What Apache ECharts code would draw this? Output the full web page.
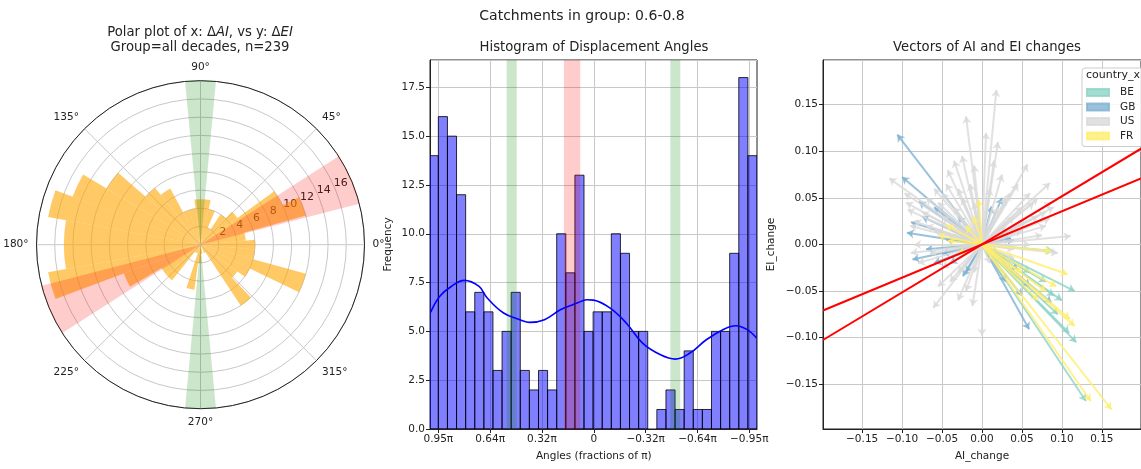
<!DOCTYPE html>
<html><head><meta charset="utf-8">
<script src="https://cdn.jsdelivr.net/npm/echarts@6/dist/echarts.min.js"></script>
<style>html,body{margin:0;padding:0;background:#fff}#c{width:1141px;height:469px}</style>
</head><body><div id="c"></div><script>
const FONT = 'DejaVu Sans';
const GRID = '#c8c8c8';

// ---------- Polar histogram: 35 equal bins from -180° to 180° ----------
const polarBinCount = 35;
const polarCounts = [15,17,9,5,5,1,1,5,2,1,0,1,8,5,6,12,6,6,5,12,10,5,4,2,4,5,5,4,4,7,8,12,15,17,15];
const polarRadiusTicks = ['2','4','6','8','10','12','14','16'];
const greenBandsDeg = [[84.6,95.4],[264.6,275.4]];
const redBandsDeg = [[14.5,32.6],[194.5,212.6]];

// ---------- Histogram of displacement angles (fractions of pi; left = +1) ----------
const histCounts = [14,16,15,12,6,7,6,3,5,7,3,2,3,2,10,8,13,5,6,6,10,9,5,5,0,1,2,1,4,1,1,5,5,9,18,14];
const histRangePi = [-1, 1.0047];
const histTickLabels = ['−0.95π','−0.64π','−0.32π','0','0.32π','0.64π','0.95π'];
const histGreenBands = [[0.470,0.531],[-0.531,-0.470]];
const histRedBands = [[0.081,0.181]];
const kdeX = [0.996,0.94,0.87,0.79,0.7,0.65,0.55,0.45,0.39,0.3,0.2,0.1,0.04,0,-0.1,-0.2,-0.3,-0.41,-0.5,-0.59,-0.69,-0.8,-0.87,-0.94,-0.997];
const kdeY = [5.98,6.8,7.3,7.61,7.3,6.71,5.94,5.6,5.46,5.6,6.12,6.45,6.62,6.6,6.2,5.43,4.4,3.8,3.58,3.89,4.57,5.12,5.29,5.09,4.66];

// ---------- Vectors (AI_change, EI_change) per country ----------
const countries = ['BE','GB','US','FR'];
const vecBE = [[0.130,-0.168],[0.118,-0.105],[0.116,-0.050],[0.089,-0.007],[0.109,-0.095],[0.080,-0.040],[0.060,-0.030],[0.095,-0.075],[0.100,-0.060],[0.090,-0.055]];
const vecGB = [[-0.106,0.118],[-0.100,0.0725],[-0.089,0.024],[-0.094,0.0125],[-0.087,-0.016],[-0.079,0.046],[0.059,-0.091],[0.087,-0.0625],[-0.024,-0.034],[0.012,0.041],[0.036,0.007],[0.045,-0.027],[-0.060,0.040],[-0.050,-0.010],[-0.040,-0.020],[0.030,-0.040],[-0.030,0.030],[0.020,-0.010],[-0.070,-0.005],[-0.075,0.030],[-0.060,-0.020],[-0.045,0.005],[0.025,0.050],[0.040,0.005],[-0.020,-0.030],[0.060,-0.045],[0.050,-0.055]];
const vecUS = [[0.018,0.166],[-0.020,0.1375],[0.057,0.086],[-0.116,0.071],[-0.043,0.080],[0.085,0.066],[0.087,0.045],[0.111,0.009],[0.095,-0.009],[0.000,-0.098],[-0.012,-0.066],[-0.061,-0.068],[-0.097,0.055],[-0.093,0.0375],[-0.089,-0.009],[-0.010,0.085],[0.025,0.075],[0.050,0.040],[0.070,0.030],[-0.070,0.020],[-0.060,0.060],[-0.080,-0.020],[-0.040,-0.040],[0.080,0.020],[0.060,0.055],[-0.030,0.060],[0.030,0.050],[-0.050,0.030],[0.040,-0.005],[-0.025,0.095],[0.005,0.120],[-0.085,0.025],[0.075,0.010],[-0.020,-0.050],
  [-0.095,0.045],[-0.090,0.020],[-0.085,0.000],[-0.075,0.035],[-0.070,0.050],[-0.065,-0.010],[-0.060,0.015],[-0.055,0.045],[-0.050,0.055],[-0.045,0.065],[-0.035,0.040],[-0.030,-0.030],[-0.025,0.050],[-0.015,0.065],[-0.010,0.045],[0.010,0.060],[0.015,0.090],[0.020,0.040],[0.035,0.055],[0.040,0.030],[0.045,0.065],[0.055,0.025],[0.065,0.045],[0.070,0.050],[0.080,0.035],[0.085,0.028],[0.090,0.040],[0.060,0.000],[0.050,0.015],[-0.040,0.010],[-0.020,0.020],[-0.050,-0.025],[-0.030,-0.060],[-0.010,-0.030],[0.010,-0.020],[0.040,-0.015],[0.020,0.110],[-0.035,0.090],[-0.055,-0.045],[0.030,0.020]];
const vecFR = [[0.162,-0.177],[0.136,-0.168],[0.116,-0.0875],[0.107,-0.032],[0.093,-0.045],[0.087,-0.007],[-0.004,0.048],[-0.045,0.021],[-0.043,0.004],[0.110,-0.080],[-0.030,-0.010],[0.050,-0.030],[0.070,-0.060],[-0.055,0.010],[-0.020,0.020],[-0.010,0.030],[0.080,-0.050]];
const countryColors = ['rgba(141,211,199,0.8)','rgba(128,177,211,0.8)','rgba(217,217,217,0.8)','rgba(255,237,111,0.8)'];
const redLine1 = [[-0.199,-0.1025],[0.199,0.1028]];
const redLine2 = [[-0.199,-0.0708],[0.199,0.0708]];

const fmtNum = (v, d) => (v < 0 ? '−' : '') + Math.abs(v).toFixed(d);
const chart = echarts.init(document.getElementById('c'), null, {renderer: 'canvas'});

function polarSector(params, api, r, a0, a1, style) {
  const cs = params.coordSys;
  const cx = cs.cx, cy = cs.cy;
  const p0 = api.coord([r, a0]);
  const p1 = api.coord([r, a1]);
  const rr = Math.hypot(p0[0] - cx, p0[1] - cy);
  if (rr < 0.5) return null;
  const s = Math.atan2(p1[1] - cy, p1[0] - cx);
  let e = Math.atan2(p0[1] - cy, p0[0] - cx);
  while (e <= s) e += Math.PI * 2;
  return {type: 'sector', shape: {cx, cy, r0: 0, r: rr, startAngle: s, endAngle: e, clockwise: true}, style};
}

const polarW = 360 / polarBinCount;
const polarBarData = polarCounts.map((c, i) => { const a0 = (-180 + i * polarW + 360) % 360; return [c, a0, a0 + polarW]; });
const polarBandData = greenBandsDeg.map(b => [18, b[0], b[1], 0]).concat(redBandsDeg.map(b => [18, b[0], b[1], 1]));
const histW = (histRangePi[1] - histRangePi[0]) / histCounts.length;
const histBarData = histCounts.map((c, i) => [histRangePi[1] - i * histW, histRangePi[1] - (i + 1) * histW, c]);
const histBandData = histGreenBands.map(b => [b[0], b[1], 0]).concat(histRedBands.map(b => [b[0], b[1], 1]));
const toLines = arr => arr.map(v => ({coords: [[0, 0], v]}));

const axisTxt = {color: '#222', fontFamily: FONT, fontSize: 10.5};
const titleTxt = {fontFamily: FONT, fontSize: 13.2, fontWeight: 'normal', color: '#222'};

const option = {
  animation: false,
  backgroundColor: '#fff',
  textStyle: {fontFamily: FONT},
  title: [
    {text: 'Catchments in group: 0.6-0.8', left: 582, top: 9, padding: 0, textAlign: 'center', textStyle: {...titleTxt, fontSize: 14}},
    {text: 'Polar plot of x: Δ{i|AI}, vs y: Δ{i|EI}\nGroup=all decades, n=239', left: 200, top: 25, padding: 0, textAlign: 'center',
      textStyle: {...titleTxt, lineHeight: 15, rich: {i: {fontStyle: 'italic', fontFamily: FONT, fontSize: 13.2, color: '#222', lineHeight: 15}}}},
    {text: 'Histogram of Displacement Angles', left: 594, top: 41, padding: 0, textAlign: 'center', textStyle: titleTxt},
    {text: 'Vectors of AI and EI changes', left: 987, top: 41, padding: 0, textAlign: 'center', textStyle: titleTxt},
    {text: 'country_x', left: 1086, top: 70, padding: 0, textStyle: {...titleTxt, fontSize: 11}}
  ],
  legend: {
    data: countries.map((n, i) => ({name: n, itemStyle: {color: countryColors[i]}})),
    orient: 'vertical', left: 1082, top: 68, icon: 'rect', itemWidth: 22, itemHeight: 7, itemGap: 3.5,
    padding: [19, 30, 5, 4], backgroundColor: 'rgba(255,255,255,0.85)', borderColor: '#ccc', borderWidth: 1, borderRadius: 3,
    textStyle: {fontFamily: FONT, fontSize: 10.5, color: '#222', padding: [0, 0, 0, 6]}
  },
  polar: [
    {center: [200.5, 244.7], radius: 164},
    {center: [206, 239], radius: 164}
  ],
  angleAxis: [
    {polarIndex: 0, type: 'value', min: 0, max: 360, interval: 45, startAngle: 0, clockwise: false,
      axisLine: {show: true, lineStyle: {color: '#222', width: 1}}, axisTick: {show: false},
      axisLabel: {...axisTxt, margin: 8, align: 'center', verticalAlign: 'middle', formatter: v => v >= 360 ? '' : v + '°'},
      splitLine: {show: true, lineStyle: {color: GRID, width: 1}}},
    {polarIndex: 1, type: 'value', min: 0, max: 360, startAngle: 22.5, clockwise: false,
      axisLine: {show: false}, axisTick: {show: false}, axisLabel: {show: false}, splitLine: {show: false}}
  ],
  radiusAxis: [
    {polarIndex: 0, type: 'value', min: 0, max: 18, interval: 2,
      axisLine: {show: false}, axisTick: {show: false}, axisLabel: {show: false},
      splitLine: {show: true, lineStyle: {color: GRID, width: 1}}},
    {polarIndex: 1, type: 'value', min: 0, max: 18, interval: 2,
      axisLine: {show: false}, axisTick: {show: false}, splitLine: {show: false},
      axisLabel: {...axisTxt, fontSize: 11, margin: 0, align: 'center', verticalAlign: 'middle', showMinLabel: false, showMaxLabel: false,
        formatter: v => { const i = Math.round(v / 2) - 1; return polarRadiusTicks[i] || ''; }}}
  ],
  grid: [
    {left: 430, top: 60, width: 327, height: 369, show: true, borderColor: '#222', borderWidth: 1, backgroundColor: 'transparent'},
    {left: 438.3, top: 60, width: 311, height: 369, show: false},
    {left: 823, top: 60, width: 327, height: 369, show: true, borderColor: '#222', borderWidth: 1, backgroundColor: 'transparent'}
  ],
  xAxis: [
    {gridIndex: 0, type: 'value', min: -1, max: 1, inverse: true,
      axisLine: {show: true, onZero: false, lineStyle: {color: '#222'}}, axisTick: {show: false}, axisLabel: {show: false}, splitLine: {show: false}},
    {gridIndex: 1, type: 'value', min: -0.95, max: 0.95, interval: 0.95 / 3, inverse: true,
      name: 'Angles (fractions of π)', nameLocation: 'middle', nameGap: 22, nameTextStyle: {...axisTxt},
      axisLine: {show: false, onZero: false}, axisTick: {show: true, length: 4, lineStyle: {color: '#222'}},
      axisLabel: {...axisTxt, margin: 5, showMinLabel: true, showMaxLabel: true,
        formatter: v => histTickLabels[Math.round((v + 0.95) / (0.95 / 3))] || ''},
      splitLine: {show: true, lineStyle: {color: GRID, width: 1}}},
    {gridIndex: 2, type: 'value', min: -0.199, max: 0.199, splitNumber: 8,
      name: 'AI_change', nameLocation: 'middle', nameGap: 22, nameTextStyle: {...axisTxt},
      axisLine: {show: true, onZero: false, lineStyle: {color: '#222'}}, axisTick: {show: true, length: 4, lineStyle: {color: '#222'}},
      axisLabel: {...axisTxt, margin: 5, showMinLabel: false, showMaxLabel: false, formatter: v => fmtNum(v, 2)},
      splitLine: {show: true, lineStyle: {color: GRID, width: 1}}}
  ],
  yAxis: [
    {gridIndex: 0, type: 'value', min: 0, max: 18.9, interval: 2.5,
      name: 'Frequency', nameLocation: 'middle', nameGap: 36, nameTextStyle: {...axisTxt},
      axisLine: {show: true, onZero: false, lineStyle: {color: '#222'}}, axisTick: {show: true, length: 4, lineStyle: {color: '#222'}},
      axisLabel: {...axisTxt, margin: 5, showMaxLabel: false, formatter: v => v.toFixed(1)},
      splitLine: {show: true, lineStyle: {color: GRID, width: 1}}},
    {gridIndex: 1, type: 'value', min: 0, max: 18.9, show: false, axisLine: {onZero: false}, splitLine: {show: false}},
    {gridIndex: 2, type: 'value', min: -0.198, max: 0.198, splitNumber: 8,
      name: 'EI_change', nameLocation: 'middle', nameGap: 46, nameTextStyle: {...axisTxt},
      axisLine: {show: true, onZero: false, lineStyle: {color: '#222'}}, axisTick: {show: true, length: 4, lineStyle: {color: '#222'}},
      axisLabel: {...axisTxt, margin: 5, showMinLabel: false, showMaxLabel: false, formatter: v => fmtNum(v, 2)},
      splitLine: {show: true, lineStyle: {color: GRID, width: 1}}}
  ],
  series: [
    {type: 'custom', coordinateSystem: 'polar', polarIndex: 0, data: polarBarData, encode: {radius: 0, angle: 1}, z: 2,
      renderItem: (params, api) => polarSector(params, api, api.value(0), api.value(1), api.value(2), {fill: 'rgba(255,165,0,0.6)'})},
    {type: 'custom', coordinateSystem: 'polar', polarIndex: 0, data: polarBandData, encode: {radius: 0, angle: 1}, z: 3,
      renderItem: (params, api) => polarSector(params, api, api.value(0), api.value(1), api.value(2),
        {fill: api.value(3) ? 'rgba(255,0,0,0.2)' : 'rgba(0,128,0,0.2)'})},
    {type: 'custom', xAxisIndex: 0, yAxisIndex: 0, data: histBarData, encode: {x: [0, 1], y: 2}, z: 2, clip: true,
      renderItem: (params, api) => {
        const c = api.value(2);
        if (!c) return null;
        const p0 = api.coord([api.value(0), 0]);
        const p1 = api.coord([api.value(1), c]);
        return {type: 'rect', shape: {x: Math.min(p0[0], p1[0]), y: Math.min(p0[1], p1[1]), width: Math.abs(p1[0] - p0[0]), height: Math.abs(p1[1] - p0[1])},
          style: {fill: 'rgba(0,0,255,0.5)', stroke: 'rgba(0,0,0,0.8)', lineWidth: 1}};
      }},
    {type: 'custom', xAxisIndex: 0, yAxisIndex: 0, data: histBandData, encode: {x: [0, 1]}, z: 3,
      renderItem: (params, api) => {
        const p0 = api.coord([api.value(0), 0]);
        const p1 = api.coord([api.value(1), 18.9]);
        return {type: 'rect', shape: {x: Math.min(p0[0], p1[0]), y: Math.min(p0[1], p1[1]), width: Math.abs(p1[0] - p0[0]), height: Math.abs(p1[1] - p0[1])},
          style: {fill: api.value(2) ? 'rgba(255,0,0,0.2)' : 'rgba(0,128,0,0.2)'}};
      }},
    {type: 'line', xAxisIndex: 0, yAxisIndex: 0, data: kdeX.map((x, i) => [x, kdeY[i]]), smooth: 0.4, showSymbol: false, z: 4,
      lineStyle: {color: '#0000ff', width: 1.6}},
    ...[vecBE, vecGB, vecUS, vecFR].map((arr, k) => ({
      type: 'lines', name: countries[k], coordinateSystem: 'cartesian2d', xAxisIndex: 2, yAxisIndex: 2, z: 3 + k,
      symbol: ['none', 'arrow'], symbolSize: 7,
      itemStyle: {color: countryColors[k]},
      lineStyle: {color: countryColors[k], width: 2, opacity: 1, curveness: 0},
      data: toLines(arr)
    })),
    {type: 'line', xAxisIndex: 2, yAxisIndex: 2, data: redLine1, showSymbol: false, z: 10, lineStyle: {color: '#ff0000', width: 2}},
    {type: 'line', xAxisIndex: 2, yAxisIndex: 2, data: redLine2, showSymbol: false, z: 10, lineStyle: {color: '#ff0000', width: 2}}
  ]
};
chart.setOption(option);
</script></body></html>
